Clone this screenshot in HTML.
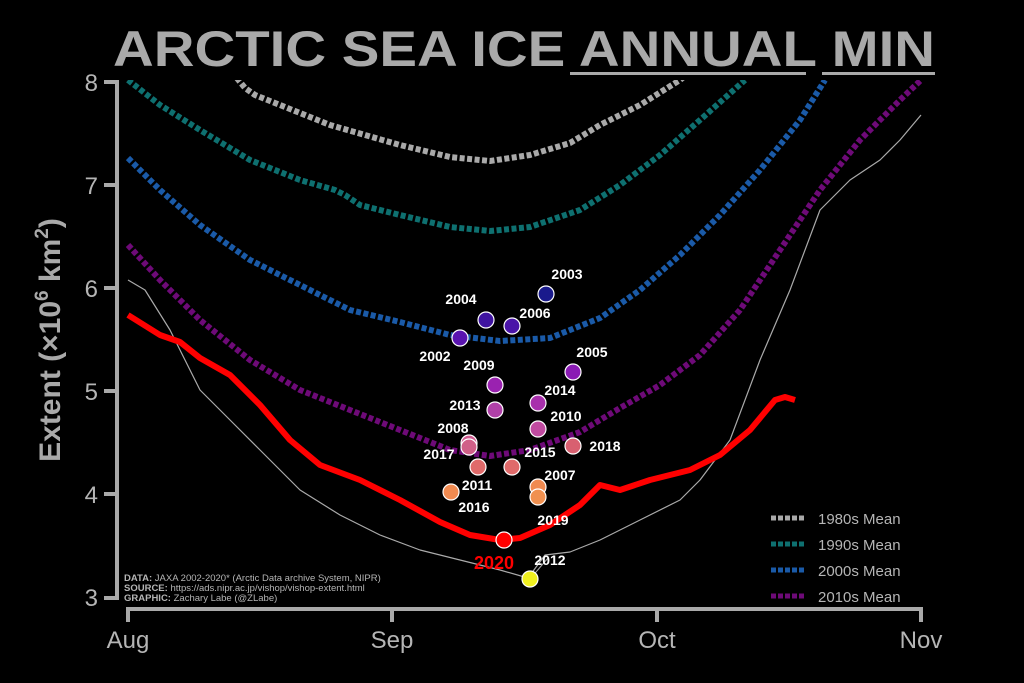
<!DOCTYPE html>
<html><head><meta charset="utf-8"><style>
html,body{margin:0;padding:0;background:#000;}
svg{display:block;font-family:"Liberation Sans",sans-serif;}
</style></head><body>
<svg width="1024" height="683" viewBox="0 0 1024 683">
<rect width="1024" height="683" fill="#000"/>
<defs><clipPath id="c"><rect x="120" y="80" width="810" height="530"/></clipPath></defs>
<!-- title -->
<text x="113" y="66" font-size="50" font-weight="bold" fill="#a9a9a9" textLength="822" lengthAdjust="spacingAndGlyphs">ARCTIC SEA ICE ANNUAL MIN</text>
<rect x="570" y="72" width="236" height="3" fill="#a9a9a9"/>
<rect x="822" y="72" width="113" height="3" fill="#a9a9a9"/>
<!-- axes -->
<g stroke="#a9a9a9" stroke-width="4" fill="none">
<path d="M104 82 H117 V598 H104"/>
<path d="M104 185 H117 M104 288 H117 M104 391 H117 M104 494 H117"/>
<path d="M128 622 V609 H921 V622 M392 609 V622 M657 609 V622"/>
</g>
<g fill="#b5b5b5" font-size="24" text-anchor="end">
<text x="98" y="91">8</text><text x="98" y="194">7</text><text x="98" y="297">6</text>
<text x="98" y="400">5</text><text x="98" y="503">4</text><text x="98" y="606">3</text>
</g>
<g fill="#b5b5b5" font-size="24" text-anchor="middle">
<text x="128" y="648">Aug</text><text x="392" y="648">Sep</text><text x="657" y="648">Oct</text><text x="921" y="648">Nov</text>
</g>
<text transform="translate(60,340) rotate(-90)" text-anchor="middle" font-size="30" font-weight="bold" fill="#a9a9a9">Extent (×10<tspan dy="-12" font-size="19">6</tspan><tspan dy="12"> km</tspan><tspan dy="-12" font-size="19">2</tspan><tspan dy="12">)</tspan></text>
<g clip-path="url(#c)" fill="none" stroke-linejoin="round">
<polyline stroke="#a9a9a9" stroke-width="6" stroke-dasharray="5 2.5" points="232,72 245,88 255,95 280,105 330,125 400,145 450,157 490,161 530,155 570,143 600,125 640,105 680,80 690,72"/>
<polyline stroke="#0e7070" stroke-width="6" stroke-dasharray="5 2.5" points="128,80 160,105 200,130 250,160 300,180 335,190 345,195 360,205 400,215 450,227 490,231 530,227 580,210 620,185 660,155 700,120 745,80"/>
<polyline stroke="#1a5aa8" stroke-width="6" stroke-dasharray="5 2.5" points="128,158 160,190 200,225 250,260 300,285 350,310 400,322 450,335 500,341 550,338 600,318 640,290 680,255 720,215 760,170 800,120 825,80"/>
<polyline stroke="#6e0a78" stroke-width="6" stroke-dasharray="5 2.5" points="128,245 160,280 200,320 250,360 300,390 350,410 400,430 450,450 490,456 530,450 580,432 620,408 660,385 700,355 740,310 780,250 820,190 860,140 900,100 921,80"/>
<polyline stroke="#aaaaaa" stroke-width="1.2" points="128,280 145,290 170,330 200,390 230,420 260,450 300,490 340,515 380,535 420,550 460,560 500,570 528,578 545,555 570,552 600,540 640,520 680,500 700,480 730,440 760,360 790,290 820,210 850,180 880,160 900,140 921,115"/>
<polyline stroke="#ff0000" stroke-width="6" points="128,315 160,335 180,342 200,358 230,375 260,405 290,440 320,465 360,480 400,500 440,522 470,535 500,540 520,538 550,525 580,505 600,485 620,490 650,480 690,470 720,455 750,430 775,400 785,397 795,400"/>
</g>
<line x1="530" y1="579" x2="548" y2="558" stroke="#aaa" stroke-width="1"/>
<g stroke="#fff" stroke-width="1.2">
<circle cx="546" cy="294" r="8" fill="#1a1a8c"/>
<circle cx="486" cy="320" r="8" fill="#3f14a0"/>
<circle cx="512" cy="326" r="8" fill="#4a14a8"/>
<circle cx="460" cy="338" r="8" fill="#5a14b0"/>
<circle cx="573" cy="372" r="8" fill="#8a1ab4"/>
<circle cx="495" cy="385" r="8" fill="#9a22b0"/>
<circle cx="538" cy="403" r="8" fill="#a830ac"/>
<circle cx="495" cy="410" r="8" fill="#b040a8"/>
<circle cx="538" cy="429" r="8" fill="#c04aa0"/>
<circle cx="469" cy="443" r="8" fill="#d05a90"/>
<circle cx="469" cy="447" r="8" fill="#d06088"/>
<circle cx="573" cy="446" r="8" fill="#d86070"/>
<circle cx="478" cy="467" r="8" fill="#e06a6a"/>
<circle cx="512" cy="467" r="8" fill="#e06a6a"/>
<circle cx="538" cy="487" r="8" fill="#f08a50"/>
<circle cx="538" cy="497" r="8" fill="#f09050"/>
<circle cx="451" cy="492" r="8" fill="#f08a50"/>
<circle cx="504" cy="540" r="8" fill="#ff0000"/>
<circle cx="530" cy="579" r="8" fill="#f0f020"/>
</g>
<g fill="#fff" font-size="14" font-weight="bold" text-anchor="middle">
<text x="567" y="279">2003</text><text x="461" y="304">2004</text><text x="535" y="318">2006</text>
<text x="435" y="361">2002</text><text x="592" y="357">2005</text><text x="479" y="370">2009</text>
<text x="560" y="395">2014</text><text x="465" y="410">2013</text><text x="566" y="421">2010</text>
<text x="453" y="433">2008</text><text x="439" y="459">2017</text><text x="540" y="457">2015</text>
<text x="605" y="451">2018</text><text x="477" y="490">2011</text><text x="560" y="480">2007</text>
<text x="474" y="512">2016</text><text x="553" y="525">2019</text><text x="550" y="565">2012</text>
</g>
<text x="494" y="569" fill="#ff0000" font-size="18" font-weight="bold" text-anchor="middle">2020</text>
<g font-size="9.5" fill="#b5b5b5">
<text x="124" y="581"><tspan font-weight="bold">DATA:</tspan> JAXA 2002-2020* (Arctic Data archive System, NIPR)</text>
<text x="124" y="591"><tspan font-weight="bold">SOURCE:</tspan> https://ads.nipr.ac.jp/vishop/vishop-extent.html</text>
<text x="124" y="601"><tspan font-weight="bold">GRAPHIC:</tspan> Zachary Labe (@ZLabe)</text>
</g>
<g stroke-width="5" stroke-dasharray="5 2">
<line x1="771" y1="518" x2="806" y2="518" stroke="#a9a9a9"/>
<line x1="771" y1="544" x2="806" y2="544" stroke="#0e7070"/>
<line x1="771" y1="570" x2="806" y2="570" stroke="#1a5aa8"/>
<line x1="771" y1="596" x2="806" y2="596" stroke="#6e0a78"/>
</g>
<g fill="#b5b5b5" font-size="15">
<text x="818" y="524">1980s Mean</text><text x="818" y="550">1990s Mean</text>
<text x="818" y="576">2000s Mean</text><text x="818" y="602">2010s Mean</text>
</g>
</svg>
</body></html>
